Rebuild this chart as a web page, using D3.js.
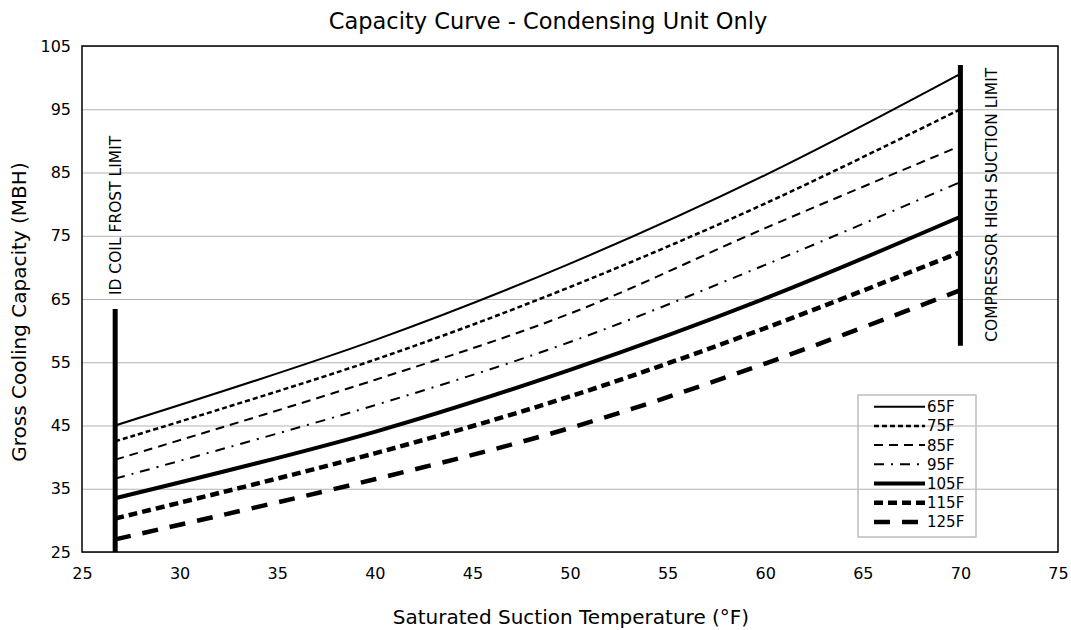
<!DOCTYPE html>
<html>
<head>
<meta charset="utf-8">
<script src="https://cdn.jsdelivr.net/npm/d3@7"></script>
<style>
  body { margin:0; background:#fff; }
  text { font-family:"DejaVu Sans", Verdana, sans-serif; fill:#000; }
</style>
</head>
<body>
<div id="chart"></div>
<script>
// suction temps where values were read
const temps = [26.7, 40, 50, 60, 70];
const seriesNames = ['65F','75F','85F','95F','105F','115F','125F'];
const cap65  = [45.0, 58.5, 70.6, 84.6, 100.6];
const cap75  = [42.5, 55.4, 66.9, 80.1, 95.0];
const cap85  = [39.6, 52.2, 62.7, 76.2, 89.2];
const cap95  = [36.6, 48.2, 58.2, 70.4, 83.5];
const cap105 = [33.5, 44.0, 53.8, 65.1, 78.0];
const cap115 = [30.3, 40.6, 49.6, 60.4, 72.4];
const cap125 = [27.0, 36.5, 44.6, 54.8, 66.4];
const xTicks = [25,30,35,40,45,50,55,60,65,70,75];
const yTicks = [25,35,45,55,65,75,85,95,105];
const frostLimit = {x:26.7, y0:25, y1:63.4};
const suctionLimit = {x:70, y0:57.6, y1:102};

const allValues = [cap65,cap75,cap85,cap95,cap105,cap115,cap125];
const styles = [
  {w:2,   dash:null},
  {w:2.5, dash:'5,3'},
  {w:2,   dash:'9,6'},
  {w:2,   dash:'10,7,2,7'},
  {w:4,   dash:null},
  {w:4.5, dash:'9,5'},
  {w:4.5, dash:'16,12'}
];

const W = 1071, H = 630;
const m = {top:46, right:13, bottom:78, left:82};
const FONT = '"DejaVu Sans", Verdana, sans-serif';

const svg = d3.select('#chart').append('svg')
  .attr('width',W).attr('height',H);

const x = d3.scaleLinear().domain([25,75]).range([m.left, W-m.right]);
const y = d3.scaleLinear().domain([25,105]).range([H-m.bottom, m.top]);

// grid
svg.append('g')
  .attr('transform','translate('+m.left+',0)')
  .call(d3.axisLeft(y).tickValues(yTicks).tickSize(-(W-m.left-m.right)).tickFormat(''))
  .call(g => g.select('.domain').remove())
  .selectAll('line').attr('stroke','#b3b3b3').attr('stroke-width',1.2);

// tick labels
svg.append('g')
  .attr('transform','translate('+m.left+',0)')
  .call(d3.axisLeft(y).tickValues(yTicks).tickSize(0).tickPadding(11))
  .call(g => g.select('.domain').remove())
  .selectAll('text').style('font-size','16px').style('font-family',FONT);

svg.append('g')
  .attr('transform','translate(0,'+(H-m.bottom)+')')
  .call(d3.axisBottom(x).tickValues(xTicks).tickSize(0).tickPadding(16))
  .call(g => g.select('.domain').remove())
  .selectAll('text').style('font-size','16px').style('font-family',FONT);

// plot frame
svg.append('rect')
  .attr('x',m.left).attr('y',m.top)
  .attr('width',W-m.left-m.right).attr('height',H-m.top-m.bottom)
  .attr('fill','none').attr('stroke','#000').attr('stroke-width',1.5);

// curves
const line = d3.line()
  .x((d,i) => x(temps[i]))
  .y(d => y(d))
  .curve(d3.curveCatmullRom);

allValues.forEach(function(vals,i){
  svg.append('path')
    .datum(vals)
    .attr('d',line)
    .attr('fill','none')
    .attr('stroke','#000')
    .attr('stroke-width',styles[i].w)
    .attr('stroke-dasharray',styles[i].dash);
});

// limit lines
[frostLimit, suctionLimit].forEach(function(l){
  svg.append('line')
    .attr('x1',x(l.x)).attr('x2',x(l.x))
    .attr('y1',y(l.y0)).attr('y2',y(l.y1))
    .attr('stroke','#000').attr('stroke-width',5);
});

svg.append('text')
  .attr('transform','translate('+(x(frostLimit.x)+6)+','+(y(frostLimit.y1)-14)+') rotate(-90)')
  .style('font-size','15.5px')
  .text('ID COIL FROST LIMIT');

svg.append('text')
  .attr('transform','translate('+(x(suctionLimit.x)+37)+','+(y(suctionLimit.y0)-4)+') rotate(-90)')
  .style('font-size','15.5px')
  .text('COMPRESSOR HIGH SUCTION LIMIT');

// legend
const lg = svg.append('g').attr('transform','translate(858,395)');
lg.append('rect')
  .attr('width',118).attr('height',142)
  .attr('fill','none').attr('stroke','#bdbdbd').attr('stroke-width',1.5);
seriesNames.forEach(function(name,i){
  const yy = 11.7 + i*19.2;
  lg.append('line')
    .attr('x1',16).attr('x2',67).attr('y1',yy).attr('y2',yy)
    .attr('stroke','#000')
    .attr('stroke-width',styles[i].w)
    .attr('stroke-dasharray',styles[i].dash);
  lg.append('text')
    .attr('x',69).attr('y',yy).attr('dy','0.36em')
    .style('font-size','15px')
    .text(name);
});

// titles
svg.append('text')
  .attr('x',548).attr('y',29)
  .attr('text-anchor','middle')
  .style('font-size','22.5px')
  .text('Capacity Curve - Condensing Unit Only');

svg.append('text')
  .attr('x',571).attr('y',624)
  .attr('text-anchor','middle')
  .style('font-size','20px')
  .text('Saturated Suction Temperature (°F)');

svg.append('text')
  .attr('transform','translate(26,312) rotate(-90)')
  .attr('text-anchor','middle')
  .style('font-size','20px')
  .text('Gross Cooling Capacity (MBH)');
</script>
</body>
</html>
